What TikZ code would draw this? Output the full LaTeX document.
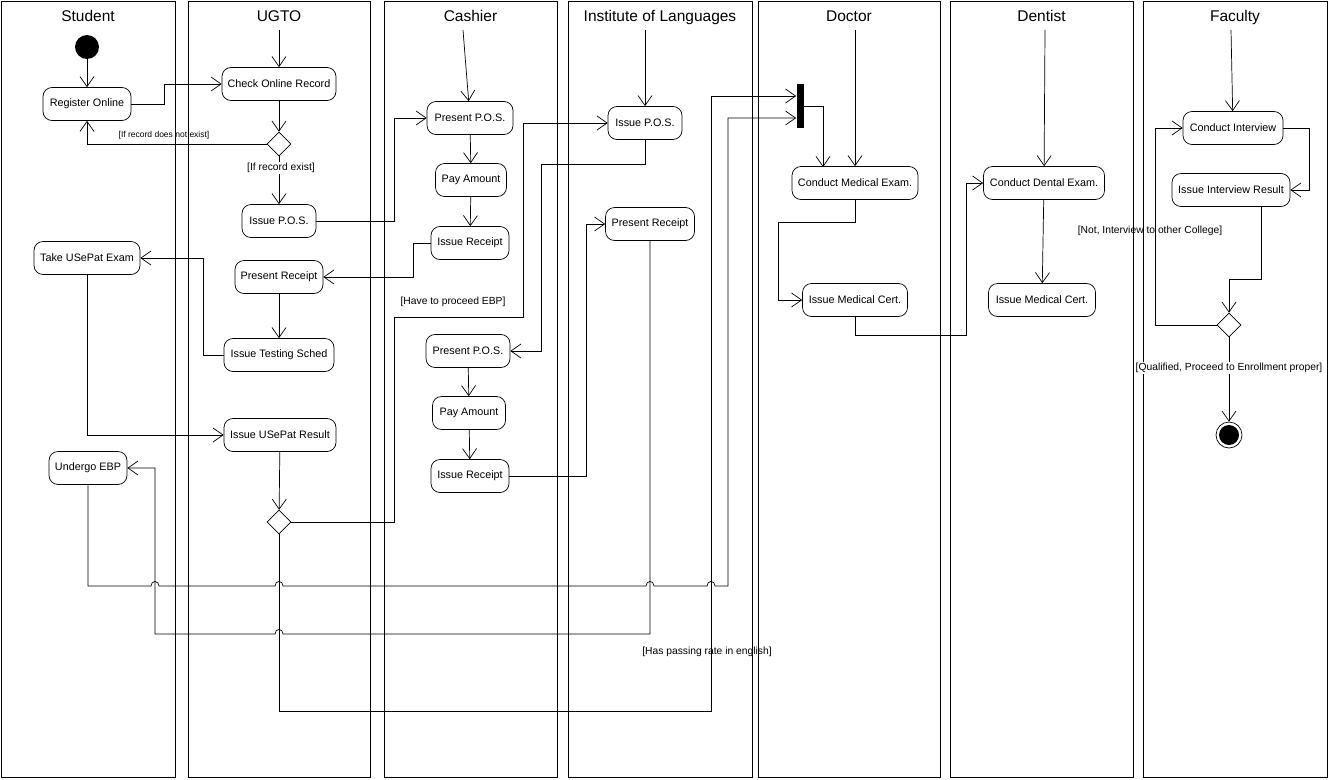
\documentclass[tikz,border=0pt]{standalone}
\usepackage{fontspec}
\setmainfont{Liberation Sans}
\usetikzlibrary{arrows.meta,shapes.geometric}
\begin{document}
\begin{tikzpicture}[x=1pt,y=-1pt,
  lane/.style={draw,line width=0.8pt},
  hd/.style={font=\fontsize{15.5}{17}\selectfont,anchor=base},
  act/.style={draw,rounded corners=9pt,minimum height=33pt,inner sep=0pt,font=\fontsize{10.8}{12}\selectfont},
  dec/.style={draw,diamond,minimum width=24pt,minimum height=24pt,inner sep=0pt},
  lbl/.style={font=\fontsize{10.3}{12}\selectfont,fill=white,inner sep=1pt},
  slbl/.style={font=\fontsize{8.5}{10}\selectfont,inner sep=1pt},
  ar/.style={-{Straight Barb[length=10pt,width=14pt]}},
  every path/.style={line width=0.7pt}]
\useasboundingbox (0,0) rectangle (1329,779);
% lanes
\foreach \a/\b/\t/\n in {1/175/Student/l1,188/370/UGTO/l2,384/557/Cashier/l3,568/752/Institute of Languages/l4,758/940/Doctor/l5,950/1133/Dentist/l6,1143/1327/Faculty/l7}{
  \draw[lane] (\a,1) rectangle (\b,777);
  \node[hd] (\n) at ({(\a+\b)/2},21) {\t};
}
\coordinate (h2) at (279,30);
\coordinate (h3) at (463,30);
\coordinate (h4) at (645,30);
\coordinate (h5) at (855,30);
\coordinate (h6) at (1045,30);
\coordinate (h7) at (1231,30);
% nodes
\node[circle,fill,minimum size=24pt,inner sep=0] (start) at (87,47) {};
\node[act,minimum width=88pt] (reg) at (87,104) {Register Online};
\node[act,minimum width=114pt] (chk) at (279,84) {Check Online Record};
\node[dec] (d1) at (279,144) {};
\node[act,minimum width=74pt] (ipos) at (279,221) {Issue P.O.S.};
\node[act,minimum width=106pt] (take) at (87,258) {Take USePat Exam};
\node[act,minimum width=88pt] (prec) at (279,277) {Present Receipt};
\node[act,minimum width=110pt] (its) at (279,355) {Issue Testing Sched};
\node[act,minimum width=112pt] (iur) at (280,435) {Issue USePat Result};
\node[act,minimum width=78pt] (ueb) at (88,468) {Undergo EBP};
\node[dec] (d2) at (279,522) {};
\node[act,minimum width=86pt] (ppos1) at (470,118) {Present P.O.S.};
\node[act,minimum width=71pt] (pay1) at (471,180) {Pay Amount};
\node[act,minimum width=78pt] (ir1) at (470,243) {Issue Receipt};
\node[act,minimum width=84pt] (ppos2) at (468,351) {Present P.O.S.};
\node[act,minimum width=73pt] (pay2) at (469,413) {Pay Amount};
\node[act,minimum width=78pt] (ir2) at (470,476) {Issue Receipt};
\node[act,minimum width=74pt] (ipos2) at (645,123) {Issue P.O.S.};
\node[act,minimum width=89pt] (prec2) at (650,224) {Present Receipt};
\node[fill,minimum width=7pt,minimum height=44pt,inner sep=0] (bar) at (800,106) {};
\node[act,minimum width=126pt] (cme) at (855,183) {Conduct Medical Exam.};
\node[act,minimum width=105pt] (imc) at (855,300) {Issue Medical Cert.};
\node[act,minimum width=121pt] (cde) at (1044,183) {Conduct Dental Exam.};
\node[act,minimum width=107pt] (imc2) at (1042,300) {Issue Medical Cert.};
\node[act,minimum width=100pt] (ci) at (1233,128) {Conduct Interview};
\node[act,minimum width=118pt] (iir) at (1231,190) {Issue Interview Result};
\node[dec] (d3) at (1229,325) {};
\node[circle,draw,minimum size=26pt,inner sep=0] (end) at (1229,435) {};
\fill (end.center) circle (10);
% connectors
\draw[ar] (start) -- (reg);
\draw[ar] (h2) -- (chk);
\draw[ar] (reg.east) -- (164,104) -- (164,84) -- (chk.west);
\draw[ar] (chk) -- (d1);
\draw[ar] (d1.west) -- (87,144) -- (reg.south);
\node[slbl] at (164,135) {[If record does not exist]};
\draw[ar] (d1) -- (ipos);
\node[lbl] at (281,168) {[If record exist]};
\draw[ar] (h3) -- (ppos1);
\draw[ar] (ipos.east) -- (394,221) -- (394,118) -- (ppos1.west);
\draw[ar] (ppos1) -- (pay1);
\draw[ar] (pay1) -- (ir1);
\draw[ar] (ir1.west) -- (413,243) -- (413,277) -- (prec.east);
\draw[ar] (prec) -- (its);
\draw[ar] (its.west) -- (203,355) -- (203,258) -- (take.east);
\draw[ar] (take.south) -- (87,435) -- (iur.west);
\draw[ar] (iur) -- (d2);
\draw[ar] (d2.east) -- (394,522) -- (394,317) -- (523,317) -- (523,123) -- (ipos2.west);
\node[lbl,fill=none] at (453,302) {[Have to proceed EBP]};
\draw[ar] (h4) -- (ipos2);
\draw[ar] (ipos2.south) -- (645,164) -- (541,164) -- (541,351) -- (ppos2.east);
\draw[ar] (ppos2) -- (pay2);
\draw[ar] (pay2) -- (ir2);
\draw[ar] (ir2.east) -- (586,476) -- (586,224) -- (prec2.west);
% hop lines
\draw[ar] (ueb.south) -- (88,586) -- (151,586) .. controls (151,580) and (159,580) .. (159,586)
  -- (275,586) .. controls (275,580) and (283,580) .. (283,586)
  -- (646,586) .. controls (646,580) and (654,580) .. (654,586)
  -- (707,586) .. controls (707,580) and (715,580) .. (715,586)
  -- (728,586) -- (728,118) -- (bar.west |- 0,118);
\draw[ar] (prec2.south) -- (650,634) -- (283,634) .. controls (283,628) and (275,628) .. (275,634)
  -- (155,634) -- (155,468) -- (ueb.east);
\draw[ar] (d2.south) -- (279,711) -- (711,711) -- (711,96) -- (bar.west |- 0,96);
\node[lbl,fill=none] at (707,652) {[Has passing rate in english]};
\draw[ar] (bar.east |- 0,106) -- (823,106) -- (823,167);
\draw[ar] (h5) -- (cme);
\draw[ar] (cme.south) -- (855,222) -- (778,222) -- (778,300) -- (imc.west);
\draw[ar] (imc.south) -- (855,335) -- (966,335) -- (966,183) -- (cde.west);
\draw[ar] (h6) -- (cde);
\draw[ar] (cde) -- (imc2);
\draw[ar] (h7) -- (ci);
\draw[ar] (ci.east) -- (1309,128) -- (1309,190) -- (iir.east);
\draw[ar] (1261,207) -- (1261,279) -- (1229,279) -- (d3.north);
\draw[ar] (d3.west) -- (1155,325) -- (1155,128) -- (ci.west);
\node[lbl,fill=none] at (1150,231) {[Not, Interview to other College]};
\draw[ar] (d3) -- (end);
\node[lbl] at (1229,368) {[Qualified, Proceed to Enrollment proper]};
\end{tikzpicture}
\end{document}
